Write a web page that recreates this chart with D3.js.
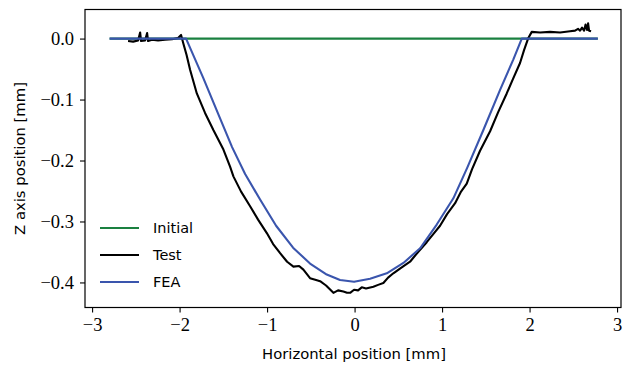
<!DOCTYPE html>
<html>
<head>
<meta charset="utf-8">
<script src="https://cdn.jsdelivr.net/npm/d3@7"></script>
<style>
  body { margin: 0; background: #fff; }
  svg { display: block; }
</style>
</head>
<body>
<svg id="chart" width="623" height="367"></svg>
<script>
// Initial profile
const initialX = [-2.8, 2.78];
const initialY = [0, 0];

// Test (measured) profile
const testX = [-2.589, -2.531, -2.474, -2.451, -2.440, -2.394, -2.371, -2.360, -2.314, -2.246, -2.166, -2.086, -2.017, -1.983,
  -1.957, -1.920, -1.880, -1.803, -1.709, -1.614, -1.499, -1.423, -1.385, -1.297, -1.194, -1.103, -1.003, -0.931, -0.851,
  -0.771, -0.699, -0.634, -0.585, -0.509, -0.440, -0.394, -0.326, -0.242, -0.189, -0.128, -0.086, -0.051, -0.006, 0.040,
  0.082, 0.131, 0.215, 0.269, 0.329, 0.383, 0.443, 0.531, 0.634, 0.726, 0.825, 0.897, 0.977, 1.057, 1.149, 1.217, 1.282,
  1.343, 1.434, 1.549, 1.640, 1.739, 1.811, 1.891, 1.937, 1.986, 2.025,
  2.120, 2.234, 2.349, 2.463, 2.520, 2.554, 2.577, 2.600, 2.623, 2.640, 2.657, 2.669, 2.680, 2.703];
const testY = [-0.004, -0.005, -0.003, 0.010, -0.004, -0.003, 0.009, -0.004, -0.002, -0.003, -0.002, -0.001, 0.001, 0.006,
  -0.008, -0.027, -0.051, -0.090, -0.122, -0.150, -0.182, -0.210, -0.226, -0.251, -0.275, -0.297, -0.319, -0.337, -0.352,
  -0.366, -0.374, -0.373, -0.379, -0.393, -0.396, -0.398, -0.405, -0.417, -0.413, -0.415, -0.417, -0.417, -0.412, -0.413,
  -0.408, -0.410, -0.407, -0.404, -0.401, -0.392, -0.385, -0.376, -0.366, -0.350, -0.334, -0.321, -0.307, -0.288, -0.270,
  -0.251, -0.238, -0.214, -0.184, -0.152, -0.121, -0.090, -0.066, -0.040, -0.019, 0.001, 0.011,
  0.010, 0.011, 0.010, 0.012, 0.013, 0.016, 0.013, 0.018, 0.013, 0.023, 0.014, 0.025, 0.013, 0.012];

// FEA profile
const feaX = [-2.8, -1.926, -1.731, -1.560, -1.400, -1.251, -1.080, -0.897, -0.703, -0.509, -0.318, -0.166, -0.006,
  0.177, 0.368, 0.558, 0.749, 0.939, 1.129, 1.287, 1.472, 1.663, 1.815, 1.911, 2.78];
const feaY = [0, 0, -0.064, -0.123, -0.178, -0.222, -0.264, -0.307, -0.343, -0.369, -0.387, -0.396, -0.399,
  -0.394, -0.385, -0.368, -0.344, -0.305, -0.262, -0.212, -0.150, -0.084, -0.034, 0, 0];

const xTicks = [-3, -2, -1, 0, 1, 2, 3];
const yTicks = [0, -0.1, -0.2, -0.3, -0.4];

const series = [
  { name: "Initial", xs: initialX, ys: initialY, color: "#1a8040" },
  { name: "Test", xs: testX, ys: testY, color: "#000000" },
  { name: "FEA", xs: feaX, ys: feaY, color: "#3a55ad" }
];

const svg = d3.select("#chart");
const mLeft = 85, mRight = 621, mTop = 9.5, mBottom = 307.5;
const serif = "'Liberation Serif', 'Times New Roman', serif";
const sans = "'DejaVu Sans', sans-serif";

const x = d3.scaleLinear().domain([-3.081, 3.045]).range([mLeft, mRight]);
const y = d3.scaleLinear().domain([-0.4411, 0.0477]).range([mBottom, mTop]);

const minus = s => s.replace("-", "\u2212");

// Axes
const xAxis = svg.append("g")
  .attr("transform", `translate(0,${mBottom})`)
  .call(d3.axisBottom(x).tickValues(xTicks).tickSize(5).tickPadding(5)
    .tickFormat(d => minus(d3.format("d")(d))));
const yAxis = svg.append("g")
  .attr("transform", `translate(${mLeft},0)`)
  .call(d3.axisLeft(y).tickValues(yTicks).tickSize(5).tickPadding(6)
    .tickFormat(d => minus(d3.format(".1f")(d))));
[xAxis, yAxis].forEach(a => {
  a.attr("font-family", null).attr("font-size", null);
  a.select(".domain").remove();
  a.selectAll(".tick line").attr("stroke", "#000").attr("stroke-width", 1.1);
  a.selectAll(".tick text").attr("fill", "#000")
    .style("font-family", serif).style("font-size", "18.5px");
});
xAxis.selectAll(".tick text").attr("dy", "0.75em");

// Lines
const line = d3.line().x(d => x(d[0])).y(d => y(d[1]));
const plot = svg.append("g");
series.forEach(s => {
  plot.append("path")
    .datum(s.xs.map((v, i) => [v, s.ys[i]]))
    .attr("d", line)
    .attr("fill", "none")
    .attr("stroke", s.color)
    .attr("stroke-width", 2.1)
    .attr("stroke-linejoin", "round");
});

// Frame
svg.append("rect")
  .attr("x", mLeft).attr("y", mTop)
  .attr("width", mRight - mLeft).attr("height", mBottom - mTop)
  .attr("fill", "none").attr("stroke", "#000").attr("stroke-width", 1.2);

// Legend
const legend = svg.append("g").attr("transform", "translate(100,228)");
series.forEach((s, i) => {
  const row = legend.append("g").attr("transform", `translate(0,${i * 27})`);
  row.append("line").attr("x1", 0).attr("x2", 39).attr("y1", 0).attr("y2", 0)
    .attr("stroke", s.color).attr("stroke-width", 2.1);
  row.append("text").attr("x", 53).attr("y", 0).attr("dy", "0.36em")
    .attr("font-family", sans).attr("font-size", 14.5).text(s.name);
});

// Axis labels
svg.append("text")
  .attr("font-family", sans).attr("font-size", 14.8)
  .attr("x", 354).attr("y", 359)
  .attr("text-anchor", "middle").text("Horizontal position [mm]");
svg.append("text")
  .attr("font-family", sans).attr("font-size", 14.8)
  .attr("transform", `translate(25,${(mTop + mBottom) / 2}) rotate(-90)`)
  .attr("text-anchor", "middle").text("Z axis position [mm]");
</script>
</body>
</html>
